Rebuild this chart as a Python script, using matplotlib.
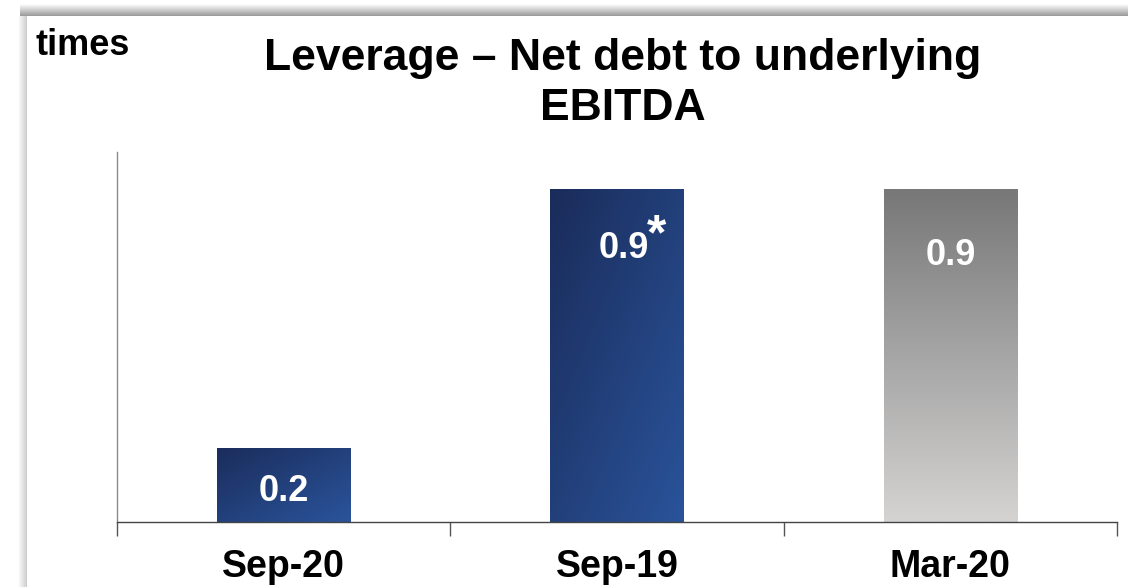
import numpy as np
import matplotlib
matplotlib.use('Agg')
import matplotlib.pyplot as plt
from matplotlib.colors import to_rgb

plt.rcParams['font.family'] = ['Liberation Sans', 'DejaVu Sans']

# leverage (net debt / underlying EBITDA), times
periods = ['Sep-20', 'Sep-19', 'Mar-20']
leverage = [0.2, 0.9, 0.9]
value_labels = ['0.2', '0.9', '0.9']
footnote_marks = ['', '*', '']

W, H, DPI = 1128, 587, 100


def gradient_image(c0, c1, diagonal, n=64):
    """RGB array running from c0 (top / top-left) to c1 (bottom / bottom-right)."""
    rows = np.linspace(0, 1, n)[:, None]
    cols = np.linspace(0, 1, n)[None, :]
    t = (rows + cols) / 2 if diagonal else np.repeat(rows, n, axis=1)
    a, b = np.array(to_rgb(c0)), np.array(to_rgb(c1))
    return a + t[..., None] * (b - a)


fig = plt.figure(figsize=(W / DPI, H / DPI), dpi=DPI)

# slide frame with a soft shadow along top and left edges
bg = fig.add_axes([0, 0, 1, 1], zorder=0)
bg.set_xlim(0, W)
bg.set_ylim(H, 0)
bg.axis('off')
top_band = gradient_image('#ffffff', '#999999', diagonal=False)
bg.imshow(top_band, extent=(20, W, 16, 4), aspect='auto', interpolation='bilinear')
left_band = np.transpose(gradient_image('#ffffff', '#cdcdcd', diagonal=False), (1, 0, 2))
bg.imshow(left_band, extent=(18, 27, H, 16), aspect='auto', interpolation='bilinear')
bg.set_xlim(0, W)
bg.set_ylim(H, 0)

ax = fig.add_axes([117 / W, (H - 522) / H, 1000 / W, 370 / H], zorder=1)
ax.patch.set_alpha(0)

x = np.arange(len(periods))
bars = ax.bar(x, leverage, width=0.4, color='none', edgecolor='none')

fills = [('#1b2d5c', '#2a549b', True),
         ('#1a2c5a', '#2a539a', True),
         ('#797879', '#d4d3d2', False)]
for bar, (c0, c1, diag) in zip(bars, fills):
    x0, w, h = bar.get_x(), bar.get_width(), bar.get_height()
    im = ax.imshow(gradient_image(c0, c1, diag), extent=(x0, x0 + w, 0, h),
                   aspect='auto', interpolation='bilinear', zorder=2)
    im.set_clip_path(bar)

ax.set_xlim(-0.5, len(periods) - 0.5)
ax.set_ylim(0, 1.0)

# value labels: centred in short bars, near the top of tall ones
for xi, v, lab, mark in zip(x, leverage, value_labels, footnote_marks):
    bar_px = v * 370
    if bar_px < 120:
        dy = -(bar_px / 2 + 16)
    else:
        dy = -69 if mark else -76
    dx = 7 if mark else 0
    ax.annotate(lab, xy=(xi, v), xytext=(dx, dy), textcoords='offset pixels',
                ha='center', va='baseline', color='white', fontsize=26,
                fontweight='bold', zorder=3)
    if mark:
        ax.annotate(mark, xy=(xi, v), xytext=(dx + 23, dy + 9),
                    textcoords='offset pixels', ha='left', va='baseline',
                    color='white', fontsize=36, fontweight='bold', zorder=3)

# axes styling
for side in ('top', 'right'):
    ax.spines[side].set_visible(False)
ax.spines['left'].set_color('#8a8a8a')
ax.spines['left'].set_linewidth(1.0)
ax.spines['bottom'].set_color('#444444')
ax.spines['bottom'].set_linewidth(1.0)
ax.set_yticks([])
ax.set_xticks(x)
ax.tick_params(axis='x', which='major', length=0, labelbottom=False)
ax.set_xticks(np.arange(-0.5, len(periods)), minor=True)
ax.tick_params(axis='x', which='minor', length=10, width=1.0,
               color='#555555', direction='out')

for xi, name in zip(x, periods):
    ax.text(xi, -0.1486, name, transform=ax.get_xaxis_transform(),
            ha='center', va='baseline', fontsize=27, fontweight='bold')

fig.text(35 / W, (H - 55) / H, 'times', ha='left', va='baseline',
         fontsize=26, fontweight='bold')
fig.text(623 / W, (H - 70) / H, 'Leverage \u2013 Net debt to underlying',
         ha='center', va='baseline', fontsize=32, fontweight='bold')
fig.text(623 / W, (H - 120) / H, 'EBITDA',
         ha='center', va='baseline', fontsize=32, fontweight='bold')

fig.savefig('out.png', dpi=DPI)
